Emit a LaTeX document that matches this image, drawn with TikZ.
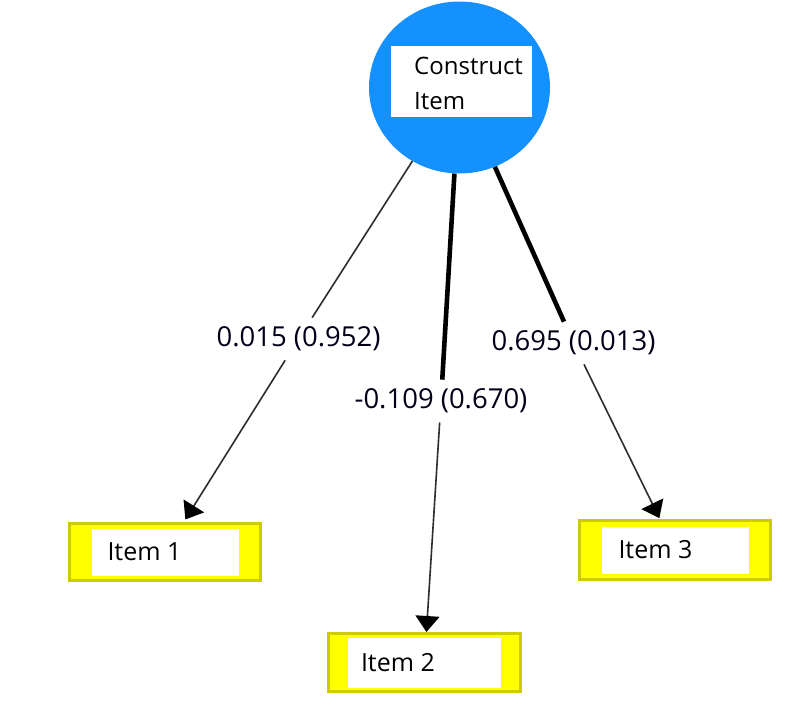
\documentclass[tikz,border=0pt]{standalone}
\usepackage{fontspec}
\setmainfont{Open Sans}
\usetikzlibrary{shapes.geometric,arrows.meta}
\definecolor{cblue}{RGB}{20,145,255}
\definecolor{iyellow}{RGB}{255,255,0}
\definecolor{iframe}{RGB}{204,204,0}
\definecolor{lgray}{RGB}{45,45,45}
\tikzset{
  construct/.style={ellipse, fill=cblue, minimum width=181pt, minimum height=172pt, inner sep=0pt},
  whitebox/.style={rectangle, fill=white, inner sep=0pt},
  itembox/.style={rectangle, draw=iframe, fill=iyellow, line width=3pt, minimum width=191pt, minimum height=57pt, inner sep=0pt},
  itemtext/.style={anchor=west, inner sep=0pt, font=\fontsize{25}{30}\selectfont},
  pathlabel/.style={rectangle, inner sep=9pt, font=\fontsize{27.5}{32}\selectfont, text=black!90!blue},
  thinline/.style={draw=lgray, line width=1.6pt},
  thickline/.style={draw=black, line width=4.6pt},
  tip/.style={-{Triangle[length=16pt,width=24pt,black]}}
}
\begin{document}
\begin{tikzpicture}[x=1pt,y=-1pt]
\useasboundingbox[fill=white] (0,0) rectangle (797,718);
% construct
\node[construct] (C) at (459.5,87.5) {};
\node[whitebox, minimum width=141pt, minimum height=71pt] (Cw) at (461.5,81.5) {};
\node[anchor=west, align=left, inner sep=0pt, font=\fontsize{24}{35}\selectfont] (Ct) at (414,83) {Construct\\Item};
% items
\node[itembox] (I1) at (165,552) {};
\node[whitebox, minimum width=147pt, minimum height=47pt] (I1w) at (I1) {};
\node[itemtext] (I1t) at ([xshift=16pt]I1w.west) {Item 1};
\node[itembox, minimum width=192pt, minimum height=58pt] (I2) at (424.5,662.5) {};
\node[whitebox, minimum width=153pt, minimum height=50pt] (I2w) at (I2) {};
\node[itemtext] (I2t) at ([xshift=13pt]I2w.west) {Item 2};
\node[itembox, minimum height=59pt] (I3) at (675,550) {};
\node[whitebox, minimum width=147pt, minimum height=47pt] (I3w) at (I3) {};
\node[itemtext] (I3t) at ([xshift=17pt]I3w.west) {Item 3};
% labels
\node[pathlabel] (L1) at (298.5,339) {0.015 (0.952)};
\node[pathlabel] (L2) at (441,401) {-0.109 (0.670)};
\node[pathlabel] (L3) at (573.5,343) {0.695 (0.013)};
% connectors
\draw[thinline] (C) -- (L1);
\draw[thinline, tip, shorten >=3pt] (L1) -- (I1);
\draw[thickline] (C) -- (L2);
\draw[thinline, tip] (L2) -- (I2);
\draw[thickline] (C) -- (L3);
\draw[thinline, tip, shorten >=1pt] (L3) -- (I3);
\end{tikzpicture}
\end{document}
